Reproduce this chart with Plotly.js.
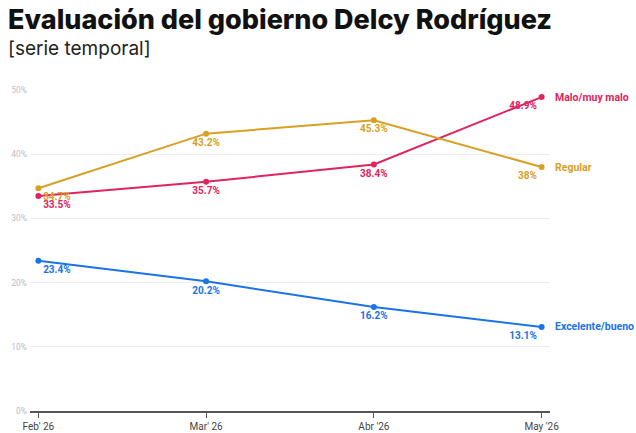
<!DOCTYPE html>
<html>
<head>
<meta charset="utf-8">
<script src="https://cdn.plot.ly/plotly-3.0.1.min.js"></script>
<style>
  html, body { margin: 0; padding: 0; background: #fff; }
  #graph { width: 636px; height: 433px; }
</style>
</head>
<body>
<div id="graph"></div>
<script>
// chart data
const months = ["Feb' 26", "Mar' 26", "Abr '26", "May '26"];
const seriesNames = ["Malo/muy malo", "Regular", "Excelente/bueno"];
const maloValues = [33.5, 35.7, 38.4, 48.9];
const regularValues = [34.7, 43.2, 45.3, 38];
const excelenteValues = [23.4, 20.2, 16.2, 13.1];
const yTicks = [0, 10, 20, 30, 40, 50];

const colors = ["#e0245e", "#d8a023", "#1a73e8"];
const labelFont = "Roboto, sans-serif";

function pctText(v) {
    return v + "%";
}

function makeTrace(name, values, color) {
    var xs = months.map((m, i) => i);
    return {
        name: name,
        x: xs,
        y: values,
        mode: 'lines+markers+text',
        line: { color: color, width: 2 },
        marker: { color: color, size: 6 },
        text: values.map(pctText),
        textposition: xs.map(i => i === 0 ? 'bottom right' : (i === xs.length - 1 ? 'bottom left' : 'bottom center')),
        textfont: { color: color, size: 10, family: labelFont, weight: 700 },
        cliponaxis: false,
        hoverinfo: 'skip',
    };
}

const allValues = [maloValues, regularValues, excelenteValues];
const traces = allValues.map((v, i) => makeTrace(seriesNames[i], v, colors[i]));

// end-of-line labels
const annotations = allValues.map((v, i) => ({
    xref: 'x', yref: 'y',
    x: months.length - 1,
    y: v[v.length - 1],
    text: seriesNames[i],
    showarrow: false,
    xanchor: 'left',
    xshift: 11,
    font: { color: colors[i], size: 10.5, family: labelFont, weight: 700 },
}));

annotations.push({
    xref: 'paper', yref: 'paper', x: 0, y: 1,
    xanchor: 'left', yanchor: 'bottom',
    text: 'Evaluación del gobierno Delcy Rodríguez',
    showarrow: false,
    xshift: -24, yshift: 52,
    font: { family: 'Inter, sans-serif', size: 27, color: '#111', weight: 800 },
});
annotations.push({
    xref: 'paper', yref: 'paper', x: 0, y: 1,
    xanchor: 'left', yanchor: 'bottom',
    text: '[serie temporal]',
    showarrow: false,
    xshift: -24, yshift: 28,
    font: { family: 'Inter, sans-serif', size: 19, color: '#222' },
});

const layout = {
    width: 636,
    height: 433,
    margin: { l: 30, r: 86, t: 90, b: 22 },
    showlegend: false,
    paper_bgcolor: '#fff',
    plot_bgcolor: '#fff',
    xaxis: {
        range: [-0.05, 3.05],
        tickvals: months.map((m, i) => i),
        ticktext: months,
        showgrid: false,
        zeroline: false,
        showline: true,
        linecolor: '#555',
        linewidth: 1.5,
        ticks: 'outside',
        ticklen: 5,
        tickcolor: '#555',
        tickfont: { family: labelFont, size: 10, color: '#444' },
        fixedrange: true,
    },
    yaxis: {
        range: [0, 50],
        tickvals: yTicks,
        ticktext: yTicks.map(t => t + '%'),
        showgrid: true,
        gridcolor: '#eeeeee',
        gridwidth: 1,
        zeroline: false,
        showline: false,
        tickfont: { family: labelFont, size: 8.5, color: '#bbb' },
        ticklabelstandoff: 2,
        fixedrange: true,
    },
    annotations: annotations,
};

Plotly.newPlot('graph', traces, layout, { displayModeBar: false, staticPlot: true });
</script>
</body>
</html>
